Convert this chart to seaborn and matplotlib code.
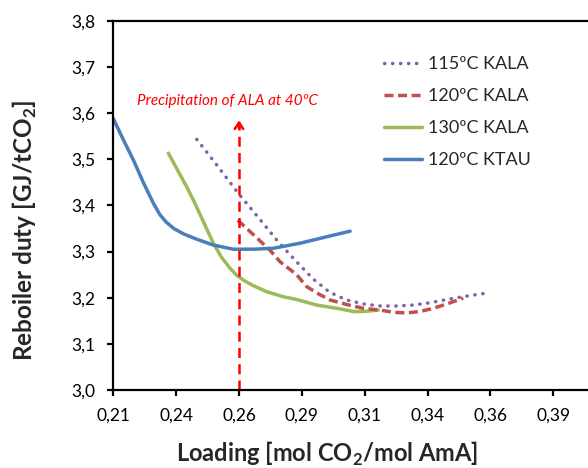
import numpy as np
import pandas as pd
import matplotlib
matplotlib.use("Agg")
import matplotlib.pyplot as plt
import seaborn as sns
from matplotlib.lines import Line2D

# ---- data ----
x_115 = [0.2432, 0.2515, 0.2597, 0.2675, 0.2750, 0.2825, 0.2896, 0.2960, 0.3028,
         0.3100, 0.3161, 0.3230, 0.3293, 0.3360, 0.3426, 0.3500, 0.3575]
y_115 = [3.543, 3.485, 3.426, 3.375, 3.325, 3.280, 3.240, 3.212, 3.195,
         3.186, 3.182, 3.182, 3.184, 3.189, 3.196, 3.203, 3.209]

x_120 = [0.2595, 0.2660, 0.2723, 0.2763, 0.2829, 0.2869, 0.2920, 0.2962, 0.3030,
         0.3094, 0.3161, 0.3220, 0.3267, 0.3320, 0.3373, 0.3430, 0.3492]
y_120 = [3.368, 3.335, 3.303, 3.278, 3.250, 3.224, 3.207, 3.195, 3.185,
         3.177, 3.173, 3.168, 3.167, 3.170, 3.177, 3.187, 3.199]

x_130 = [0.2319, 0.2359, 0.2392, 0.2425, 0.2458, 0.2498, 0.2531, 0.2564, 0.2590,
         0.2620, 0.2657, 0.2710, 0.2776, 0.2830, 0.2909, 0.2989, 0.3055, 0.3094,
         0.3154]
y_130 = [3.513, 3.473, 3.440, 3.404, 3.365, 3.318, 3.287, 3.264, 3.249,
         3.237, 3.226, 3.213, 3.202, 3.196, 3.184, 3.177, 3.170, 3.170,
         3.173]

x_ktau = [0.2100, 0.2140, 0.2180, 0.2219, 0.2259, 0.2285, 0.2310, 0.2340, 0.2380,
          0.2430, 0.2498, 0.2577, 0.2657, 0.2736, 0.2843, 0.2949, 0.3042]
y_ktau = [3.588, 3.542, 3.498, 3.450, 3.405, 3.380, 3.364, 3.350, 3.338,
          3.327, 3.314, 3.305, 3.305, 3.307, 3.318, 3.332, 3.344]

series_names = ["115ºC KALA", "120ºC KALA", "130ºC KALA", "120ºC KTAU"]
x_tick_labels = ["0,21", "0,24", "0,26", "0,29", "0,31", "0,34", "0,36", "0,39"]
y_tick_labels = ["3,0", "3,1", "3,2", "3,3", "3,4", "3,5", "3,6", "3,7", "3,8"]

precip_loading = 0.26
precip_arrow_top = 3.59
precip_text = "Precipitation of ALA at 40ºC"

# ---- style ----
sns.set_style("white")
plt.rcParams['font.family'] = ['Lato', 'DejaVu Sans']

colors = {"115ºC KALA": "#7F63A6", "120ºC KALA": "#C0504D",
          "130ºC KALA": "#9BBB59", "120ºC KTAU": "#4A7EBB"}
dot_style = (0, (0.1, 2.2))
dash_style = (0, (2.6, 1.3))
LW = 2.5

fig = plt.figure(figsize=(5.88, 4.68), dpi=100)
ax = fig.add_axes([113.3 / 588, 78 / 468, 502.8 / 588, 369.3 / 468])

frames = []
for name, xs, ys in zip(series_names, [x_115, x_120, x_130, x_ktau],
                        [y_115, y_120, y_130, y_ktau]):
    frames.append(pd.DataFrame({"loading": xs, "duty": ys, "series": name}))
df = pd.concat(frames, ignore_index=True)

draw_order = ["130ºC KALA", "115ºC KALA", "120ºC KALA", "120ºC KTAU"]
for name in draw_order:
    sub = df[df.series == name]
    if name == "115ºC KALA":
        sns.lineplot(data=sub, x="loading", y="duty", ax=ax, sort=False,
                     color=colors[name], lw=LW, linestyle=dot_style)
        ax.lines[-1].set_dash_capstyle("round")
    elif name == "120ºC KALA":
        sns.lineplot(data=sub, x="loading", y="duty", ax=ax, sort=False,
                     color=colors[name], lw=LW, linestyle=dash_style)
    else:
        sns.lineplot(data=sub, x="loading", y="duty", ax=ax, sort=False,
                     color=colors[name], lw=LW)
        ax.lines[-1].set_solid_capstyle("round")
        ax.lines[-1].set_solid_joinstyle("round")

# precipitation arrow
ax.plot([precip_loading, precip_loading], [3.0, precip_arrow_top - 0.01],
        color="#FF0000", lw=1.8, linestyle=(0, (4, 2.5)))
ax.annotate("", xy=(precip_loading, precip_arrow_top),
            xytext=(precip_loading, precip_arrow_top - 0.03),
            arrowprops=dict(arrowstyle="->,head_length=0.45,head_width=0.3",
                            color="#FF0000", lw=1.8))
ax.text(precip_loading - 0.0045, precip_arrow_top + 0.035, precip_text,
        color="#FF0000", fontstyle="italic", fontsize=11,
        ha="center", va="center")

ax.set_xlim(0.21, 0.41)
ax.set_ylim(3.0, 3.8)
ax.set_xticks(0.21 + 0.025 * np.arange(len(x_tick_labels)))
ax.set_xticklabels(x_tick_labels)
ax.set_yticks(3.0 + 0.1 * np.arange(len(y_tick_labels)))
ax.set_yticklabels(y_tick_labels)

for s in ["left", "bottom", "top"]:
    ax.spines[s].set_visible(True)
    ax.spines[s].set_color("black")
    ax.spines[s].set_linewidth(1.6)
ax.spines["right"].set_visible(False)
ax.tick_params(axis="both", which="major", direction="out", length=4, width=1.6,
               labelsize=12.5, colors="black", pad=9)
ax.tick_params(axis="x", bottom=True, top=False)
ax.tick_params(axis="y", left=True, right=False)

ax.set_xlabel("Loading [mol CO$_\\mathregular{2}$/mol AmA]", fontsize=17,
              fontweight="bold")
ax.xaxis.label.set_va("top")
ax.xaxis.set_label_coords((327.5 - 113.3) / 502.8, -(440 - 390) / 369.3)

ax.set_ylabel("Reboiler duty [GJ/tCO$_\\mathregular{2}$]", fontsize=17.5,
              fontweight="bold")
ax.yaxis.label.set_va("center")
ax.yaxis.set_label_coords((25 - 113.3) / 502.8, (390 - 230) / 369.3)

handles = [
    Line2D([], [], color=colors["115ºC KALA"], lw=LW, linestyle=dot_style,
           dash_capstyle="round"),
    Line2D([], [], color=colors["120ºC KALA"], lw=LW, linestyle=dash_style),
    Line2D([], [], color=colors["130ºC KALA"], lw=LW),
    Line2D([], [], color=colors["120ºC KTAU"], lw=LW),
]
ax.legend(handles, series_names, loc="upper left",
          bbox_to_anchor=(377 / 588, (468 - 49) / 468), bbox_transform=fig.transFigure,
          frameon=False, fontsize=13, handlelength=2.1, handletextpad=0.3,
          labelspacing=0.88, borderaxespad=0)

fig.savefig("out.png", dpi=100)
